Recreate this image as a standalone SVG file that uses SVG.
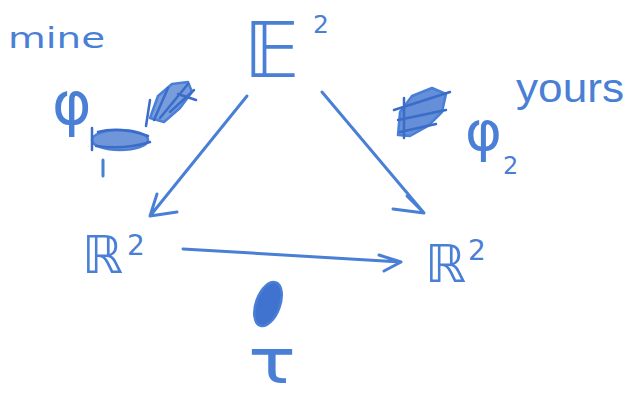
<svg xmlns="http://www.w3.org/2000/svg" width="637" height="400" viewBox="0 0 637 400">
<defs>
<style>
.ink{fill:#4a7fd6;font-family:"DejaVu Sans","Liberation Sans",sans-serif}
.ln{stroke:#4a7fd6;stroke-width:3;fill:none;stroke-linecap:round;stroke-linejoin:round}
.blob{fill:#3f73cf;stroke:#4a7fd6;stroke-width:2.5;stroke-linejoin:round}
.scr{stroke:#3a6cc8;stroke-width:2.5;fill:none;stroke-linecap:round}
</style>
</defs>
<rect width="637" height="400" fill="#ffffff"/>
<g id="node-E2">
<text class="ink" x="244" y="77" font-size="76">𝔼</text>
<text class="ink" x="313" y="33" font-size="25">2</text>
</g>
<g id="node-R2-left">
<text class="ink" x="82" y="273" font-size="52">ℝ</text>
<text class="ink" x="127" y="255" font-size="28">2</text>
</g>
<g id="node-R2-right">
<text class="ink" x="425" y="282" font-size="52">ℝ</text>
<text class="ink" x="468" y="260" font-size="28">2</text>
</g>
<g id="connectors">
<path class="ln" d="M247 96 L150 216 M157 194 L150 216 L177 212"/>
<path class="ln" d="M322 92 L424 213 M393 209 L424 213 L407 196"/>
<path class="ln" d="M183 249 L401 262 M379 255 L401 262 L384 271"/>
</g>
<g id="labels">
<text class="ink" x="8" y="48" font-size="28" textLength="97" lengthAdjust="spacingAndGlyphs">mine</text>
<text class="ink" x="516" y="102" font-size="40" style="font-family:'Liberation Sans',sans-serif" textLength="108" lengthAdjust="spacingAndGlyphs">yours</text>
<text class="ink" x="52" y="124" font-size="60">φ</text>
<text class="ink" x="465" y="150" font-size="56">φ</text>
<text class="ink" x="503" y="174" font-size="24">2</text>
<text class="ink" x="248" y="383" font-size="62" textLength="48" lengthAdjust="spacingAndGlyphs">τ</text>
<path class="ln" d="M103 160 L103 176"/>
</g>
<g id="scribbles">
<ellipse class="blob" cx="120" cy="140" rx="28" ry="10" fill-opacity="0.75"/>
<path class="scr" d="M92 128 L92 150 M98 132 Q120 126 148 136 M96 146 Q124 150 150 142"/>
<path class="blob" fill-opacity="0.7" d="M150 118 L158 96 L172 84 L188 82 L192 92 L180 108 L164 122 Z"/>
<path class="scr" d="M146 126 L150 100 M154 120 L168 88 M160 118 L188 84 M170 112 L194 90 M178 94 L196 100"/>
<path class="blob" fill-opacity="0.8" d="M398 135 L400 112 L412 96 L432 88 L446 94 L442 112 L428 126 L410 136 Z"/>
<path class="scr" d="M394 110 L450 92 M398 120 L446 110 M400 132 L436 124 M404 98 L404 138"/>
<ellipse class="blob" cx="268" cy="304" rx="12" ry="23" transform="rotate(20 268 304)"/>
</g>
</svg>
